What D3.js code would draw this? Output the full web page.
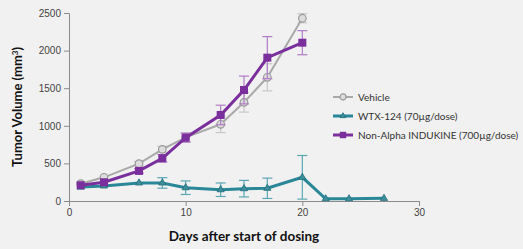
<!DOCTYPE html>
<html>
<head>
<meta charset="utf-8">
<script src="https://cdn.jsdelivr.net/npm/d3@7"></script>
<style>
  body { margin: 0; background: #f1f1f1; }
  svg { font-family: Lato, "Open Sans", sans-serif; }
  .axis path, .axis line { stroke: #8a8a8a; }
  .axis text { fill: #444; font-size: 10px; }
</style>
</head>
<body>
<div id="chart"></div>
<script>
// data
const days = [1, 3, 6, 8, 10, 13, 15, 17, 20];
const vehicle = [230, 315, 496, 687, 847, 1020, 1312, 1645, 2430];
const vehicleErr = [20, 25, 30, 40, 60, 110, 130, 180, 60];
const nonAlpha = [210, 249, 400, 568, 842, 1144, 1476, 1906, 2105];
const nonAlphaErr = [20, 20, 30, 50, 60, 130, 185, 280, 160];
const wtxDays = [1, 3, 6, 8, 10, 13, 15, 17, 20, 22, 24, 27];
const wtx = [185, 200, 240, 240, 177, 150, 164, 169, 315, 30, 30, 35];
const wtxErr = [15, 15, 20, 70, 90, 90, 110, 135, 290, 5, 5, 5];
const xTicks = [0, 10, 20, 30];
const yTicks = [0, 500, 1000, 1500, 2000, 2500];
const seriesNames = ["Vehicle", "WTX-124 (70\u00b5g/dose)", "Non-Alpha INDUKINE (700\u00b5g/dose)"];

window.addEventListener("load", () => {
  const W = 523, H = 249;
  const margin = {top: 13, right: 104, bottom: 48, left: 69};
  const width = W - margin.left - margin.right;
  const height = H - margin.top - margin.bottom;

  const svg = d3.select("#chart").append("svg")
      .attr("width", W)
      .attr("height", H);
  const chart = svg.append("g")
      .attr("transform", `translate(${margin.left},${margin.top})`);

  const x = d3.scaleLinear().domain([0, 30]).range([0, width]);
  const y = d3.scaleLinear().domain([0, 2500]).range([height, 0]);

  // axes
  chart.append("g")
      .attr("class", "axis")
      .attr("transform", `translate(0,${height})`)
      .call(d3.axisBottom(x).tickValues(xTicks).tickFormat(d3.format("d"))
        .tickSizeOuter(0).tickSize(5).tickPadding(3));
  chart.append("g")
      .attr("class", "axis")
      .call(d3.axisLeft(y).tickValues(yTicks).tickFormat(d3.format("d"))
        .tickSizeOuter(0).tickSize(5).tickPadding(3));

  // axis titles
  svg.append("text")
      .attr("transform", `translate(22,${margin.top + height / 2}) rotate(-90)`)
      .attr("text-anchor", "middle")
      .attr("font-size", 13)
      .attr("font-weight", "bold")
      .attr("fill", "#111")
      .html("Tumor Volume (mm<tspan dy='-4' font-size='8'>3</tspan><tspan dy='4'>)</tspan>");
  svg.append("text")
      .attr("x", 244)
      .attr("y", 241)
      .attr("text-anchor", "middle")
      .attr("font-size", 13.5)
      .attr("font-weight", "bold")
      .attr("fill", "#111")
      .text("Days after start of dosing");

  const series = [
    {name: seriesNames[0], xs: days, ys: vehicle, err: vehicleErr, color: "#a9a9a9", errColor: "#c8c8c8", width: 2, marker: "circle"},
    {name: seriesNames[1], xs: wtxDays, ys: wtx, err: wtxErr, color: "#2a8798", errColor: "#5aa7b4", width: 3, marker: "triangle"},
    {name: seriesNames[2], xs: days, ys: nonAlpha, err: nonAlphaErr, color: "#7a2f9c", errColor: "#b17cc6", width: 3, marker: "square"}
  ];

  const line = d3.line().x(d => x(d[0])).y(d => y(d[1]));

  function drawMarker(g, s, cx, cy, k) {
    k = k || 1;
    if (s.marker === "circle") {
      g.append("circle").attr("cx", cx).attr("cy", cy).attr("r", 3.8 * k)
        .attr("fill", "#dcdcdc").attr("stroke", "#9a9a9a").attr("stroke-width", 1.2);
    } else if (s.marker === "square") {
      g.append("rect").attr("x", cx - 4 * k).attr("y", cy - 4 * k)
        .attr("width", 8 * k).attr("height", 8 * k)
        .attr("fill", s.color);
    } else {
      g.append("path").attr("d", d3.symbol(d3.symbolTriangle, 22 * k * k)())
        .attr("transform", `translate(${cx},${cy})`)
        .attr("fill", "#3e8e9c").attr("stroke", "#1f6e7c").attr("stroke-width", 0.8);
    }
  }

  // draw order: teal, gray, purple
  [series[1], series[0], series[2]].forEach(s => {
    const pts = s.xs.map((d, i) => [d, s.ys[i], s.err[i]]);
    const g = chart.append("g");
    // error bars
    pts.forEach(p => {
      if (p[2] < 30) return;
      const cx = x(p[0]);
      g.append("line").attr("x1", cx).attr("x2", cx)
        .attr("y1", y(p[1] + p[2])).attr("y2", y(Math.max(0, p[1] - p[2])))
        .attr("stroke", s.errColor).attr("stroke-width", 1.2);
      [p[1] + p[2], Math.max(0, p[1] - p[2])].forEach(v => {
        g.append("line").attr("x1", cx - 5).attr("x2", cx + 5)
          .attr("y1", y(v)).attr("y2", y(v))
          .attr("stroke", s.errColor).attr("stroke-width", 1.2);
      });
    });
    g.append("path").datum(pts)
      .attr("d", line)
      .attr("fill", "none")
      .attr("stroke", s.color)
      .attr("stroke-width", s.width);
    pts.forEach(p => drawMarker(g, s, x(p[0]), y(p[1])));
  });

  // legend
  const legend = svg.append("g").attr("transform", "translate(333,97)");
  series.forEach((s, i) => {
    const g = legend.append("g").attr("transform", `translate(0,${i * 19})`);
    g.append("line").attr("x1", 0).attr("x2", 20).attr("y1", 0).attr("y2", 0)
      .attr("stroke", s.color).attr("stroke-width", s.width);
    drawMarker(g, s, 10, 0, 0.8);
    g.append("text").attr("x", 25).attr("y", 0).attr("dy", "0.35em")
      .attr("font-size", 10).attr("fill", "#333").text(s.name);
  });
});
</script>
</body>
</html>
